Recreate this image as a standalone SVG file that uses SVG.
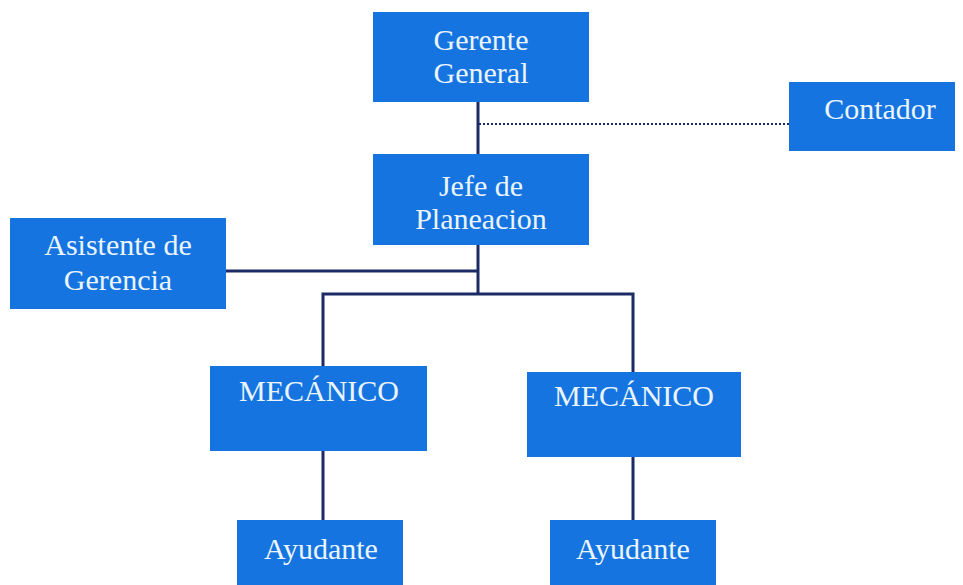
<svg xmlns="http://www.w3.org/2000/svg" width="963" height="585" viewBox="0 0 963 585">
<style>
.box{fill:#1674e0}
.t{font-family:"Liberation Serif","Times New Roman",serif;font-size:30px;fill:#eaf5ff;text-anchor:middle}
.c{stroke:#1c2a66;stroke-width:3;fill:none}
.d{stroke:#1c2a66;stroke-width:2;stroke-dasharray:2 2;fill:none}
</style>
<rect width="963" height="585" fill="#ffffff"/>
<g id="connectors">
<line class="c" x1="478" y1="102" x2="478" y2="154"/>
<line class="d" x1="479" y1="124" x2="789" y2="124"/>
<line class="c" x1="478" y1="245" x2="478" y2="294"/>
<line class="c" x1="226" y1="271" x2="478" y2="271"/>
<polyline class="c" points="323,366 323,294 633,294 633,372"/>
<line class="c" x1="323" y1="451" x2="323" y2="520"/>
<line class="c" x1="633" y1="457" x2="633" y2="520"/>
</g>
<g id="gerente">
<rect class="box" x="373" y="12" width="216" height="90"/>
<text class="t" x="481" y="50">Gerente</text>
<text class="t" x="481" y="83">General</text>
</g>
<g id="contador">
<rect class="box" x="789" y="82" width="166" height="69"/>
<text class="t" x="880" y="119">Contador</text>
</g>
<g id="jefe">
<rect class="box" x="373" y="154" width="216" height="91"/>
<text class="t" x="481" y="196">Jefe de</text>
<text class="t" x="481" y="229">Planeacion</text>
</g>
<g id="asistente">
<rect class="box" x="10" y="218" width="216" height="91"/>
<text class="t" x="118" y="255">Asistente de</text>
<text class="t" x="118" y="290">Gerencia</text>
</g>
<g id="mecanico1">
<rect class="box" x="210" y="366" width="217" height="85"/>
<text class="t" x="319" y="401">MECÁNICO</text>
</g>
<g id="mecanico2">
<rect class="box" x="527" y="372" width="214" height="85"/>
<text class="t" x="634" y="406">MECÁNICO</text>
</g>
<g id="ayudante1">
<rect class="box" x="237" y="520" width="166" height="65"/>
<text class="t" x="321" y="559">Ayudante</text>
</g>
<g id="ayudante2">
<rect class="box" x="550" y="520" width="166" height="65"/>
<text class="t" x="633" y="559">Ayudante</text>
</g>
</svg>
